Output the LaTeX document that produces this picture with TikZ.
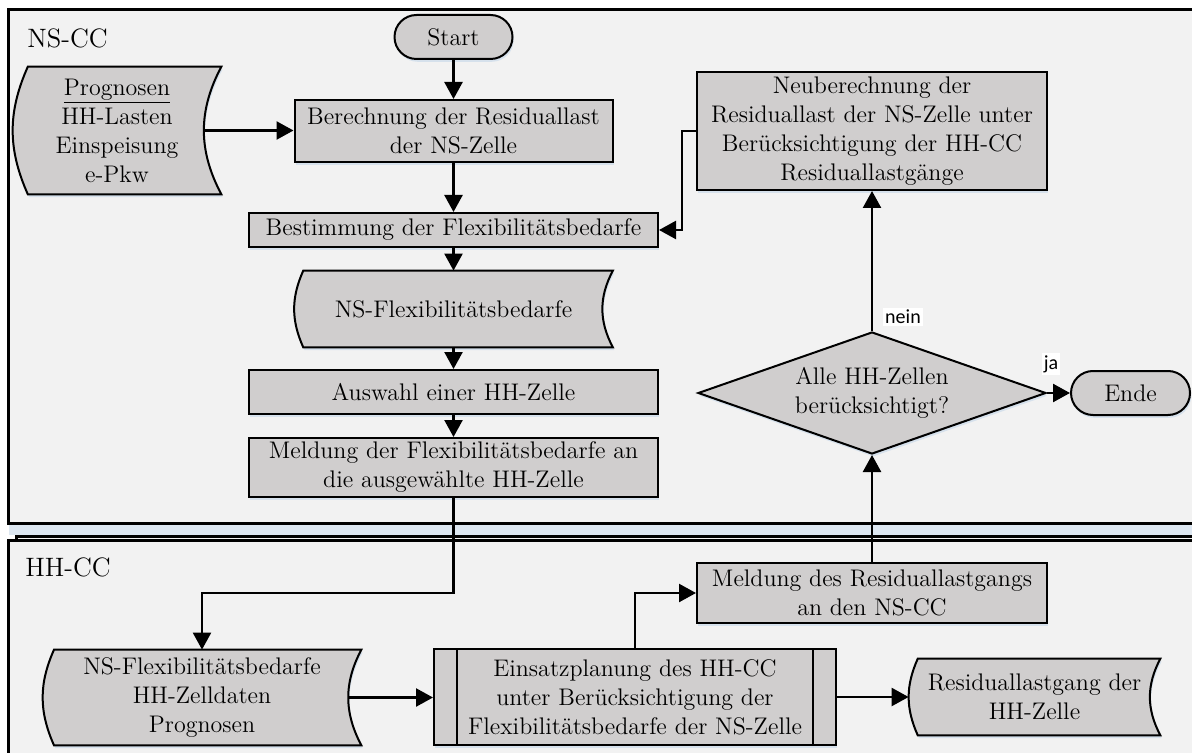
\documentclass[tikz,border=0pt]{standalone}
\usepackage{fontspec}
\newfontfamily\labelsans{Carlito}
\usetikzlibrary{arrows.meta,shapes.geometric,shadows,backgrounds,calc}

\definecolor{lanefill}{HTML}{F2F2F2}
\definecolor{boxfill}{HTML}{D0CECE}
\definecolor{shadowblue}{HTML}{CFDDEB}

\tikzset{
  txt/.style={font=\fontsize{12}{14.5}\selectfont, align=center},
  soft shadow/.style={drop shadow={shadow xshift=0.6pt, shadow yshift=-1.4pt, fill=shadowblue, opacity=0.8}},
  proc/.style={txt, draw, line width=1pt, fill=boxfill, rectangle, inner sep=1pt, soft shadow},
  term/.style={proc, rounded corners=11pt, minimum width=59pt, minimum height=22pt},
  decision/.style={txt, draw, line width=1pt, fill=boxfill, diamond, aspect=2.85,
    inner sep=0pt, minimum width=174pt, minimum height=61pt, soft shadow},
  predef/.style={proc, path picture={
    \draw[line width=1pt]
      ([xshift=11.5pt]path picture bounding box.north west) -- ([xshift=11.5pt]path picture bounding box.south west)
      ([xshift=-11.5pt]path picture bounding box.north east) -- ([xshift=-11.5pt]path picture bounding box.south east);}},
  stored/.style={txt, inner sep=0pt},
  stored outline/.style={draw, line width=1pt, fill=boxfill, soft shadow},
  lane/.style={draw, line width=1.5pt, fill=lanefill},
  lanelabel/.style={font=\fontsize{13.3}{16}\selectfont, anchor=west, inner sep=0pt},
  arr/.style={line width=1.2pt, -{Triangle[length=8.5pt,width=9pt]}},
  answer/.style={font=\labelsans\fontsize{10}{12}\selectfont, fill=white, inner sep=1pt},
}

% outline of a "stored data" symbol: convex left side, concave right side
\newcommand\drawstored[1]{%
  \path[stored outline, x=1pt, y=1pt]
    let \p1=(#1.north west), \p2=(#1.south east),
        \n1={\x1+0.1194*(\y1-\y2)} in
    (\n1,\y1) -- (\x2,\y1) to[bend right=28] (\x2,\y2) -- (\n1,\y2)
    to[bend left=24] (\n1,\y1) -- cycle;}

\begin{document}
\begin{tikzpicture}[x=0.5pt,y=-0.5pt]
\useasboundingbox (0,0) rectangle (1192,753);

% swimlanes
\begin{scope}[on background layer]
  \clip (0,0) rectangle (1192,753);
  \fill[white] (0,0) rectangle (1192,753);
  \path[lane] (8,10) rectangle (1210,523);
  \fill[shadowblue!70] (9,524.5) rectangle (1210,535);
  \path[lane] (16,536) rectangle (1210,770);
  \path[lane] (8,540) rectangle (1210,770);
\end{scope}

\node[lanelabel] (nslane) at (27,38) {NS-CC};
\node[lanelabel] (hhlane) at (25,567) {HH-CC};

% NS-CC lane
\node[term] (start) at (453.5,37) {Start};
\node[stored, minimum width=104pt, minimum height=63.5pt] (prog) at (117,130.5)
  {\underline{Prognosen}\\HH-Lasten\\Einspeisung\\e-Pkw};
\node[proc, minimum width=159pt, minimum height=31pt] (calc) at (453.5,131)
  {Berechnung der Residuallast\\der NS-Zelle};
\node[proc, minimum width=204.5pt, minimum height=17pt] (need) at (453.5,230)
  {Bestimmung der Flexibilitätsbedarfe};
\node[stored, minimum width=159pt, minimum height=38pt] (nsflex) at (453.5,309)
  {NS-Flexibilitätsbedarfe};
\node[proc, minimum width=204.5pt, minimum height=22pt] (sel) at (453.5,392)
  {Auswahl einer HH-Zelle};
\node[proc, minimum width=204.5pt, minimum height=29.5pt] (msg) at (453.5,467.5)
  {Meldung der Flexibilitätsbedarfe an\\die ausgewählte HH-Zelle};
\node[proc, minimum width=175pt, minimum height=59pt] (neu) at (872,131)
  {Neuberechnung der\\Residuallast der NS-Zelle unter\\Berücksichtigung der HH-CC\\Residuallastgänge};
\node[decision] (dec) at (872,393) {Alle HH-Zellen\\berücksichtigt?};
\node[term, minimum width=59.5pt] (ende) at (1130.5,393) {Ende};

% HH-CC lane
\node[stored, minimum width=159pt, minimum height=47.5pt] (hhdata) at (202,697.5)
  {NS-Flexibilitätsbedarfe\\HH-Zelldaten\\Prognosen};
\node[predef, minimum width=201pt, minimum height=48pt] (plan) at (635,697)
  {Einsatzplanung des HH-CC\\unter Berücksichtigung der\\Flexibilitätsbedarfe der NS-Zelle};
\node[proc, minimum width=175pt, minimum height=30pt] (res) at (872,593)
  {Meldung des Residuallastgangs\\an den NS-CC};
\node[stored, minimum width=125.5pt, minimum height=38pt] (resid) at (1034.5,697)
  {Residuallastgang der\\HH-Zelle};

% stored data outlines behind their texts
\begin{scope}[on background layer]
  \drawstored{prog}
  \drawstored{nsflex}
  \drawstored{hhdata}
  \drawstored{resid}
\end{scope}

% connectors
\coordinate (drop) at (453.5,593);
\draw[arr] (start.south) -- (calc.north);
\draw[arr] ([xshift=-8.75pt]prog.east) -- (calc.west |- prog.east);
\draw[arr] (calc.south) -- (need.north);
\draw[arr] (need.south) -- (nsflex.north);
\draw[arr] (nsflex.south) -- (sel.north);
\draw[arr] (sel.south) -- (msg.north);
\draw[arr] (msg.south) -- (drop) -| (hhdata.north);
\draw[arr] ([xshift=-6.55pt]hhdata.east) -- (plan.west |- hhdata.east);
\draw[arr] (plan.north) |- (res.west);
\draw[arr] (plan.east) -- (resid.west);
\draw[arr] (res.north) -- (dec.south);
\draw[arr] (dec.north) -- (neu.south);
\draw[arr] (dec.east) -- (ende.west);
\draw[arr] (neu.west) -- ++(-14,0) |- (need.east);

\node[answer] (nein) at (903,317) {nein};
\node[answer] (ja) at (1051,364) {ja};
\end{tikzpicture}
\end{document}
